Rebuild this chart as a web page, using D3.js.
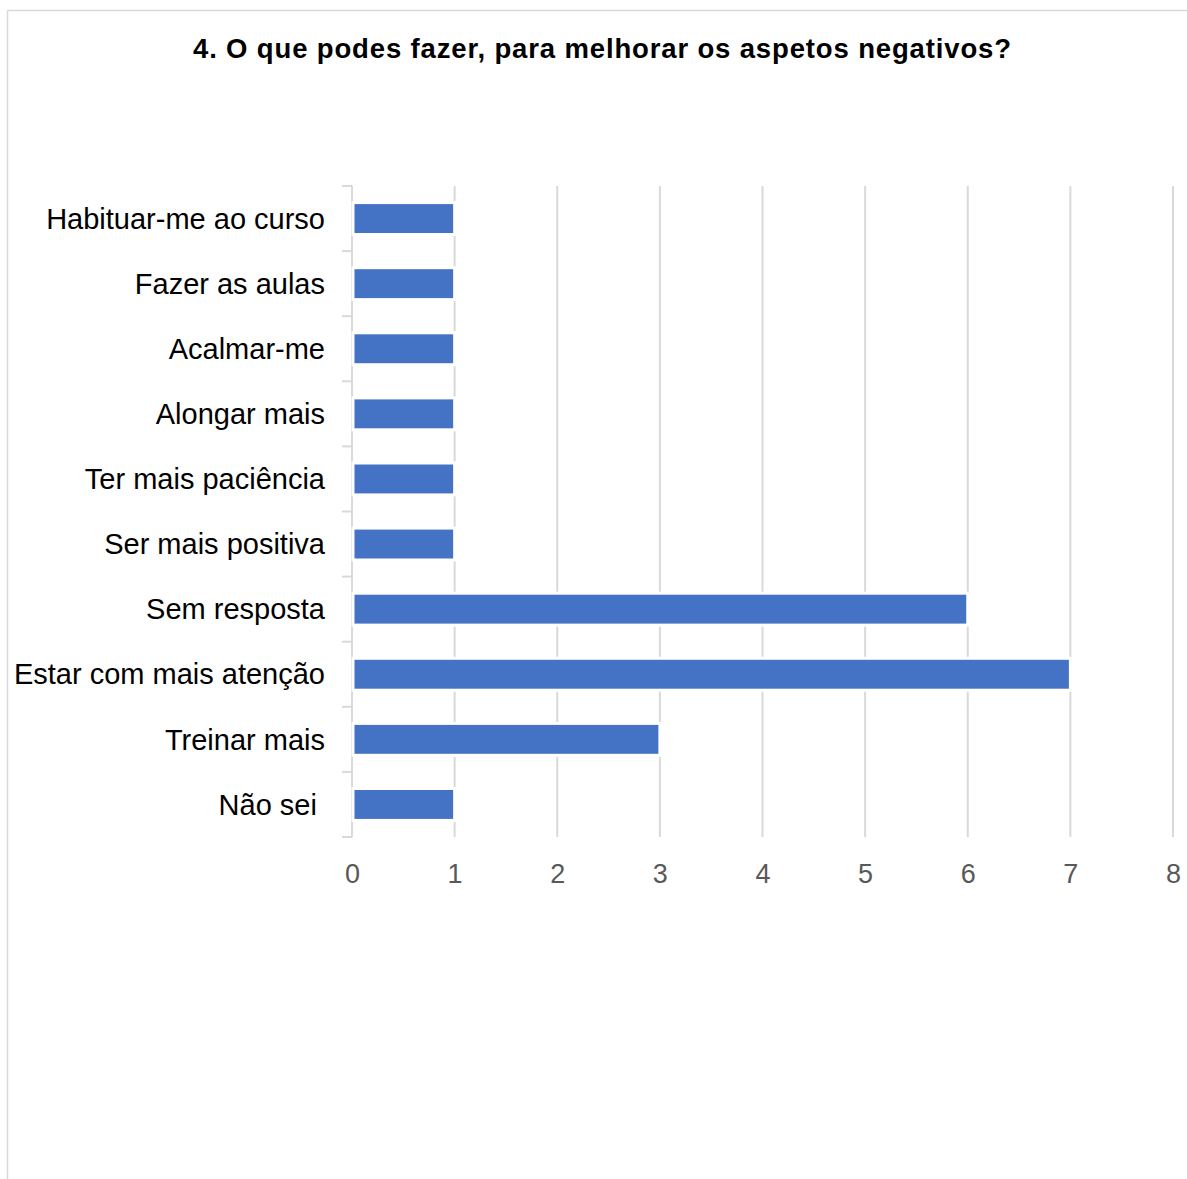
<!DOCTYPE html>
<html>
<head>
<meta charset="utf-8">
<script src="https://cdn.jsdelivr.net/npm/d3@7"></script>
<style>
  html, body { margin: 0; padding: 0; background: #fff; }
  svg { display: block; }
  text { font-family: "Liberation Sans", Arial, sans-serif; }
</style>
</head>
<body>
<svg id="chart" width="1187" height="1179"></svg>
<script>
// Answers and counts, listed top to bottom
const categories = [
  "Habituar-me ao curso",
  "Fazer as aulas",
  "Acalmar-me",
  "Alongar mais",
  "Ter mais paciência",
  "Ser mais positiva",
  "Sem resposta",
  "Estar com mais atenção",
  "Treinar mais",
  "Não sei "
];
const counts = [1, 1, 1, 1, 1, 1, 6, 7, 3, 1];
const xTicks = [0, 1, 2, 3, 4, 5, 6, 7, 8];
const title = "4. O que podes fazer, para melhorar os aspetos negativos?";

const svg = d3.select("#chart");
const W = 1187, H = 1179;
const margin = { left: 352, right: 14, top: 186, bottom: 342 };

// Outer frame (top and left edges visible)
svg.append("line").attr("x1", 7.5).attr("x2", W).attr("y1", 10.5).attr("y2", 10.5)
  .attr("stroke", "#d9d9d9").attr("stroke-width", 1.5);
svg.append("line").attr("x1", 7.5).attr("x2", 7.5).attr("y1", 10.5).attr("y2", H)
  .attr("stroke", "#d9d9d9").attr("stroke-width", 1.5);

svg.append("text")
  .attr("x", 193).attr("y", 58)
  .attr("font-size", 27.5).attr("font-weight", "bold").attr("fill", "#000")
  .attr("textLength", 818).attr("lengthAdjust", "spacing")
  .text(title);

const x = d3.scaleLinear().domain([0, 8]).range([margin.left, 1173]);
const y = d3.scaleBand().domain(categories).range([margin.top, H - margin.bottom])
  .paddingInner(0.51).paddingOuter(0.255);

// Vertical gridlines
svg.append("g").selectAll("line").data(xTicks.filter(d => d > 0)).join("line")
  .attr("x1", d => x(d)).attr("x2", d => x(d))
  .attr("y1", margin.top).attr("y2", H - margin.bottom)
  .attr("stroke", "#d9d9d9").attr("stroke-width", 2);

// Category axis with tick marks between bands
const yAxisG = svg.append("g");
yAxisG.append("line")
  .attr("x1", margin.left).attr("x2", margin.left)
  .attr("y1", margin.top).attr("y2", H - margin.bottom)
  .attr("stroke", "#d9d9d9").attr("stroke-width", 2);
const boundaries = d3.range(categories.length + 1).map(i => margin.top + i * (H - margin.bottom - margin.top) / categories.length);
yAxisG.selectAll("line.tick").data(boundaries).join("line")
  .attr("class", "tick")
  .attr("x1", margin.left - 10).attr("x2", margin.left)
  .attr("y1", d => d).attr("y2", d => d)
  .attr("stroke", "#d9d9d9").attr("stroke-width", 2);

yAxisG.selectAll("text").data(categories).join("text")
  .attr("x", 325)
  .attr("y", d => y(d) + y.bandwidth() / 2)
  .attr("dy", "0.35em")
  .attr("text-anchor", "end")
  .attr("font-size", 29).attr("fill", "#000")
  .style("white-space", "pre")
  .text(d => d);

// Bars
svg.append("g").selectAll("rect").data(categories).join("rect")
  .attr("x", x(0) + 1)
  .attr("y", (d) => y(d))
  .attr("width", (d, i) => x(counts[i]) - x(0) - 1)
  .attr("height", y.bandwidth())
  .attr("fill", "#4472C4")
  .attr("stroke", "#fff").attr("stroke-width", 3);

// Value axis labels
const xAxis = d3.axisBottom(x).tickValues(xTicks).tickSize(0).tickPadding(0);
const xg = svg.append("g").attr("transform", `translate(0, ${H - margin.bottom})`).call(xAxis);
xg.select(".domain").remove();
xg.selectAll("text")
  .attr("font-size", 27).attr("fill", "#595959")
  .attr("font-family", "Liberation Sans, Arial, sans-serif")
  .attr("y", 46).attr("dy", null);
</script>
</body>
</html>
